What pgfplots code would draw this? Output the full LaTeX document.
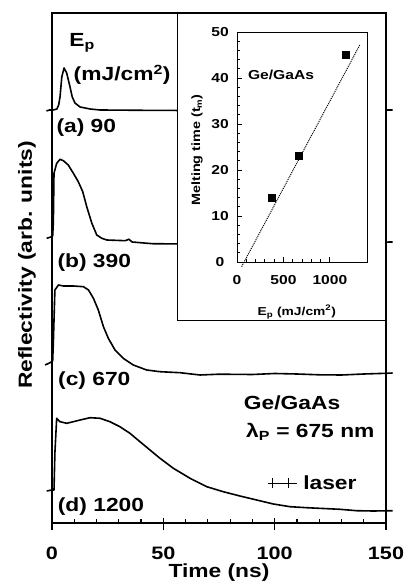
\documentclass[border=0pt]{standalone}
\usepackage{fontspec}
\setmainfont{Liberation Sans}[FakeStretch=1.2]
\usepackage{pgfplots}
\pgfplotsset{compat=1.18}
\begin{document}
\begin{tikzpicture}
\useasboundingbox (-52pt,-65pt) rectangle (354pt,523pt);
\begin{axis}[
  at={(0pt,0pt)}, anchor=south west,
  scale only axis, width=334pt, height=510pt,
  xmin=0, xmax=150, ymin=0, ymax=510,
  clip=false, axis on top,
  axis line style={line width=2pt},
  ytick=\empty,
  xtick={0,50,100,150}, minor x tick num=4,
  xtick pos=bottom, tick align=inside,
  major tick length=5pt, minor tick length=4pt,
  every tick/.style={line width=1.2pt, black},
  extra x ticks={0,50,100,150}, extra x tick labels={},
  extra x tick style={tick align=outside, major tick length=7pt},
  /pgf/number format/assume math mode=true,
  xticklabel style={font=\fontsize{18}{20}\selectfont\bfseries, anchor=center, yshift=-30pt},
  xlabel={Time (ns)},
  ylabel={Reflectivity (arb. units)},
  every axis x label/.style={at={(axis description cs:0.5,0)}, anchor=center, yshift=-50pt, font=\fontsize{19}{21}\selectfont\bfseries},
  every axis y label/.style={at={(axis description cs:0,0.506)}, rotate=90, anchor=center, yshift=25pt, font=\fontsize{19}{21}\selectfont\bfseries},
]
% (a) 90
\addplot[line width=1.6pt, line join=round] coordinates {
(-2.5,412) (-1.2,413) (0.5,413) (2.2,414) (3.0,418) (3.6,426) (4.4,446) (5.4,455) (6.6,450) (8.1,436) (9.1,426) (10.3,420) (12.6,416) (17.1,414) (21.6,413) (40,412.7) (60,412.5) (80,412.5) (100,412.5) (130,412.5) (153,413)
};
% (b) 390
\addplot[line width=1.6pt, line join=round] coordinates {
(-2.4,284.7) (-0.9,285.7) (0.3,287) (0.6,300) (0.9,349.7) (2.1,359.7) (3.6,363.7) (5.1,362.3) (7.3,358) (9.6,349.7) (11.8,341.3) (13.8,331.3) (15.6,316.3) (17.9,299.7) (20.1,288) (22.4,284.7) (24.6,283) (33.0,282.3) (34.5,283.8) (36.0,281) (45,279.3) (60,279) (90,279.5) (120,280) (153,281)
};
% (c) 670
\addplot[line width=1.6pt, line join=round] coordinates {
(-3.1,158) (-0.9,160.3) (0.3,162) (0.6,180) (1.3,233) (2.9,238) (5.1,237) (9.6,237) (14.1,236.3) (16.4,233) (18.6,224.7) (20.8,213) (23.1,196.3) (25.3,184.7) (28.3,173) (32.0,164.7) (36.5,158) (42.5,153) (48.5,151.3) (57.5,150.3) (66.5,148) (75,148.8) (90,148.5) (100,149.5) (110,149) (120,148.2) (130,148) (140,149) (150,149.7) (153,150)
};
% (d) 1200
\addplot[line width=1.6pt, line join=round] coordinates {
(-2.4,32) (-0.1,33) (0.9,33) (1.3,70) (2.1,104.7) (3.6,101.3) (6.6,99.7) (9.6,101.3) (12.6,103) (17.1,105.3) (21.6,104.7) (26.0,101.3) (30.5,96.3) (35.0,89.7) (39.5,81.3) (44.0,73) (48.5,64.7) (54.5,54.7) (62.0,44.7) (69.5,36.3) (76.9,31.3) (84.4,27) (91.9,23) (99.4,19) (106.9,16.3) (114.4,15.3) (121.8,14.5) (129.3,13.7) (136.8,12.3) (144.3,12) (153,12.3)
};
% laser pulse marker
\addplot[line width=1pt] coordinates {(97,40) (110,40)};
\addplot[line width=1pt] coordinates {(99.2,35) (99.2,45)};
\addplot[line width=1pt] coordinates {(106,35) (106,45)};
% inset frame
\draw[fill=white, line width=0.8pt] (axis cs:56.1,203) rectangle (axis cs:150,510);
% labels
\begin{scope}[font=\fontsize{19}{21}\selectfont\bfseries]
\node at (axis cs:13.5,480) {E\textsubscript{p}};
\node at (axis cs:31.5,448) {(mJ/cm\textsuperscript{2})};
\node at (axis cs:15.4,395) {(a) 90};
\node at (axis cs:19,260) {(b) 390};
\node at (axis cs:19,142) {(c) 670};
\node at (axis cs:22,16) {(d) 1200};
\node at (axis cs:107.8,120) {Ge/GaAs};
\node at (axis cs:116,91) {λ\textsubscript{P} = 675 nm};
\node at (axis cs:124.8,40) {laser};
\end{scope}
\end{axis}
\begin{axis}[
  at={(185pt,261pt)}, anchor=south west,
  scale only axis, width=130pt, height=230pt,
  xmin=0, xmax=1400, ymin=0, ymax=50,
  clip=false,
  axis line style={line width=0.8pt},
  xtick={0,500,1000}, ytick={0,10,...,50},
  minor x tick num=4, minor y tick num=4,
  xtick pos=bottom, ytick pos=left, tick align=inside,
  major tick length=5pt, minor tick length=3pt,
  every tick/.style={line width=0.8pt, black},
  /pgf/number format/assume math mode=true,
  /pgf/number format/1000 sep={},
  xticklabel style={font=\fontsize{13}{15}\selectfont\bfseries, anchor=center, yshift=-18pt},
  yticklabel style={font=\fontsize{13}{15}\selectfont\bfseries, anchor=center, xshift=-17pt},
  xlabel={E\textsubscript{p} (mJ/cm\textsuperscript{2})},
  ylabel={Melting time (t\textsubscript{m})},
  every axis x label/.style={at={(axis description cs:0.46,0)}, anchor=center, yshift=-50pt, font=\fontsize{11.5}{13}\selectfont\bfseries},
  every axis y label/.style={at={(axis description cs:0,0.487)}, rotate=90, anchor=center, yshift=40pt, font=\fontsize{12}{14}\selectfont\bfseries},
]
\addplot[densely dotted, line width=1pt] coordinates {(50,-1) (1323,47.2)};
\addplot[only marks, mark=square*, mark size=3.5pt, black] coordinates {(378,14) (668,23) (1172,45)};
\node[font=\fontsize{13}{15}\selectfont\bfseries] at (axis cs:474,40.6) {Ge/GaAs};
\end{axis}
\end{tikzpicture}
\end{document}
